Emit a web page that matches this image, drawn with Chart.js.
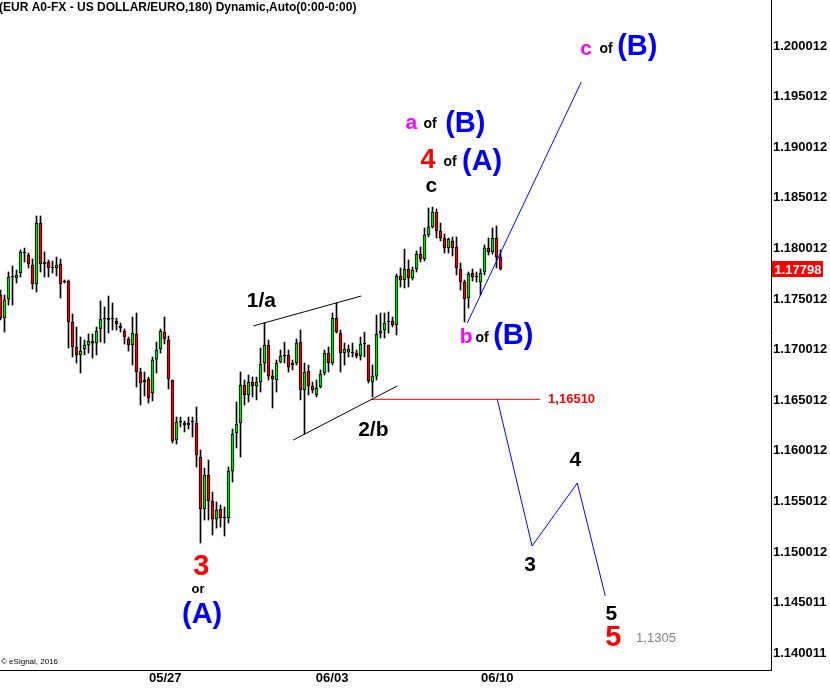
<!DOCTYPE html>
<html>
<head>
<meta charset="utf-8">
<script src="https://cdn.jsdelivr.net/npm/chart.js@4.4.1/dist/chart.umd.min.js"></script>
<style>
  body { margin: 0; background: #fff; }
  #wrap { width: 830px; height: 688px; }
</style>
</head>
<body>
<div id="wrap"><canvas id="chart" width="830" height="688"></canvas></div>
<script>
const ARIAL = '"Liberation Sans", Arial, sans-serif';

// EUR A0-FX, 180 min candles
const open = [
  1.17541, 1.17314, 1.17501, 1.17719, 1.17709, 1.17758, 1.17956, 1.17936, 1.17837, 1.17650,
  1.18252, 1.17847, 1.17867, 1.17808, 1.17808, 1.17847, 1.17669, 1.17679, 1.17274, 1.17027,
  1.16948, 1.17007, 1.17047, 1.17086, 1.17066, 1.17205, 1.17304, 1.17294, 1.17304, 1.17284,
  1.17235, 1.17185, 1.17106, 1.17047, 1.17156, 1.16780, 1.16681, 1.16711, 1.16573, 1.16908,
  1.17007, 1.17175, 1.17096, 1.16701, 1.16108, 1.16286, 1.16276, 1.16256, 1.16286, 1.16276,
  1.15940, 1.15426, 1.15762, 1.15505, 1.15327, 1.15426, 1.15337, 1.15337, 1.15801, 1.16177,
  1.16276, 1.16652, 1.16553, 1.16681, 1.16642, 1.16681, 1.16869, 1.17047, 1.16740, 1.16701,
  1.16879, 1.16938, 1.16948, 1.16849, 1.16869, 1.17076, 1.16602, 1.16790, 1.16642, 1.16553,
  1.16632, 1.16770, 1.16968, 1.16869, 1.17314, 1.17165, 1.16968, 1.16978, 1.16968, 1.16968,
  1.16938, 1.17057, 1.17047, 1.16681, 1.16740, 1.17165, 1.17195, 1.17274, 1.17284, 1.17245,
  1.17729, 1.17689, 1.17798, 1.17709, 1.17798, 1.17946, 1.17897, 1.18134, 1.18213, 1.18361,
  1.18173, 1.18104, 1.18005, 1.18075, 1.18015, 1.17798, 1.17669, 1.17511, 1.17758, 1.17719,
  1.17669, 1.17768, 1.18005, 1.17966, 1.18104, 1.17916
];
const high = [
  1.17590, 1.17541, 1.17768, 1.17828, 1.17788, 1.17986, 1.18005, 1.17956, 1.17897, 1.18322,
  1.18322, 1.17966, 1.17887, 1.17877, 1.17916, 1.17897, 1.17689, 1.17689, 1.17353, 1.17225,
  1.17126, 1.17096, 1.17156, 1.17156, 1.17225, 1.17482, 1.17422, 1.17531, 1.17462, 1.17314,
  1.17264, 1.17205, 1.17126, 1.17324, 1.17363, 1.16819, 1.16780, 1.16730, 1.16928, 1.17076,
  1.17205, 1.17324, 1.17136, 1.16701, 1.16335, 1.16335, 1.16296, 1.16335, 1.16335, 1.16434,
  1.16009, 1.15831, 1.15910, 1.15594, 1.15495, 1.15466, 1.15446, 1.15841, 1.16217, 1.16484,
  1.16780, 1.16701, 1.16750, 1.16730, 1.16730, 1.17017, 1.17264, 1.17096, 1.16800, 1.16898,
  1.16997, 1.17076, 1.16997, 1.16898, 1.17106, 1.17195, 1.16869, 1.16849, 1.16681, 1.16701,
  1.16800, 1.16997, 1.17027, 1.17363, 1.17462, 1.17195, 1.17066, 1.17047, 1.17066, 1.16997,
  1.17126, 1.17175, 1.17047, 1.16849, 1.17343, 1.17363, 1.17363, 1.17373, 1.17324, 1.17748,
  1.17808, 1.17995, 1.17887, 1.17818, 1.17976, 1.18015, 1.18203, 1.18401, 1.18410, 1.18391,
  1.18252, 1.18144, 1.18104, 1.18114, 1.18114, 1.17857, 1.17689, 1.17768, 1.17798, 1.17768,
  1.17798, 1.18035, 1.18104, 1.18203, 1.18223, 1.17986
];
const low = [
  1.17294, 1.17175, 1.17442, 1.17442, 1.17659, 1.17719, 1.17867, 1.17808, 1.17600, 1.17571,
  1.17768, 1.17719, 1.17719, 1.17758, 1.17729, 1.17511, 1.17659, 1.17017, 1.16928, 1.16869,
  1.16770, 1.16948, 1.16968, 1.16918, 1.16948, 1.17076, 1.17066, 1.17165, 1.17195, 1.17195,
  1.17175, 1.17057, 1.16987, 1.16849, 1.16632, 1.16454, 1.16543, 1.16474, 1.16494, 1.16770,
  1.16968, 1.17057, 1.16612, 1.16078, 1.16068, 1.16236, 1.16187, 1.16217, 1.16138, 1.15841,
  1.15090, 1.15317, 1.15317, 1.15169, 1.15238, 1.15248, 1.15159, 1.15288, 1.15693, 1.16029,
  1.15940, 1.16454, 1.16484, 1.16533, 1.16504, 1.16582, 1.16780, 1.16701, 1.16424, 1.16582,
  1.16869, 1.16869, 1.16780, 1.16800, 1.16849, 1.16504, 1.16167, 1.16553, 1.16573, 1.16533,
  1.16622, 1.16750, 1.16780, 1.16849, 1.17165, 1.16780, 1.16849, 1.16928, 1.16928, 1.16918,
  1.16898, 1.16928, 1.16671, 1.16533, 1.16701, 1.17116, 1.17116, 1.17165, 1.17225, 1.17146,
  1.17620, 1.17610, 1.17620, 1.17689, 1.17768, 1.17867, 1.17877, 1.18114, 1.18203, 1.18104,
  1.18075, 1.17956, 1.17956, 1.17926, 1.17739, 1.17590, 1.17274, 1.17412, 1.17679, 1.17669,
  1.17541, 1.17739, 1.17936, 1.17946, 1.17808, 1.17788
];
const close = [
  1.17314, 1.17492, 1.17719, 1.17719, 1.17739, 1.17966, 1.17956, 1.17847, 1.17650, 1.18252,
  1.17847, 1.17867, 1.17808, 1.17808, 1.17837, 1.17650, 1.17669, 1.17274, 1.17027, 1.16948,
  1.16987, 1.17047, 1.17086, 1.17066, 1.17185, 1.17304, 1.17304, 1.17314, 1.17304, 1.17254,
  1.17215, 1.17126, 1.17047, 1.17165, 1.16780, 1.16671, 1.16701, 1.16523, 1.16898, 1.16997,
  1.17185, 1.17106, 1.16711, 1.16098, 1.16286, 1.16286, 1.16256, 1.16276, 1.16286, 1.15960,
  1.15426, 1.15762, 1.15505, 1.15327, 1.15416, 1.15337, 1.15337, 1.15801, 1.16167, 1.16266,
  1.16652, 1.16553, 1.16681, 1.16642, 1.16681, 1.16859, 1.17047, 1.16740, 1.16711, 1.16869,
  1.16938, 1.16938, 1.16829, 1.16869, 1.17066, 1.16602, 1.16780, 1.16642, 1.16602, 1.16622,
  1.16760, 1.16968, 1.16869, 1.17314, 1.17175, 1.16968, 1.17007, 1.17007, 1.16968, 1.16938,
  1.17057, 1.17057, 1.16691, 1.16740, 1.17156, 1.17185, 1.17264, 1.17274, 1.17245, 1.17729,
  1.17689, 1.17798, 1.17709, 1.17788, 1.17946, 1.17897, 1.18134, 1.18213, 1.18361, 1.18173,
  1.18104, 1.18005, 1.18094, 1.18005, 1.17808, 1.17669, 1.17501, 1.17748, 1.17719, 1.17719,
  1.17758, 1.18005, 1.17966, 1.18104, 1.17916, 1.17798
];

const priceTicks = [1.140011, 1.145011, 1.150012, 1.155012, 1.160012, 1.165012, 1.170012,
  1.175012, 1.180012, 1.185012, 1.190012, 1.195012, 1.200012];
const dateTicks = [41.2, 82.9, 124.2];
const dateLabels = ['05/27', '06/03', '06/10'];

// drawn wave paths (bar index, price)
const projUp = [{x: 116.7, y: 1.17264}, {x: 145.2, y: 1.19646}];
const projDown = [{x: 124.2, y: 1.16510}, {x: 132.9, y: 1.15061}, {x: 144.2, y: 1.15683}, {x: 151.2, y: 1.14567}];
const channelTop = [{x: 63.2, y: 1.17235}, {x: 90.2, y: 1.17531}];
const channelBot = [{x: 73.2, y: 1.16108}, {x: 99.2, y: 1.16642}];
const levelPrice = 1.16510;
const levelLine = [{x: 92.7, y: levelPrice}, {x: 134.9, y: levelPrice}];

const MAG = '#ff00ff', BLUE = '#0000ff', RED = '#ff0000', BLK = '#000000';
const waveLabels = [
  {t: 'c', x: 146.4, y: 1.19972, c: MAG, f: 'bold 21px'},
  {t: 'of', x: 151.4, y: 1.19972, c: BLK, f: 'bold 14px'},
  {t: '(B)', x: 159.2, y: 1.19992, c: BLUE, f: 'bold 29px'},
  {t: 'a', x: 102.7, y: 1.19241, c: MAG, f: 'bold 21px'},
  {t: 'of', x: 107.4, y: 1.19231, c: BLK, f: 'bold 14px'},
  {t: '(B)', x: 116.2, y: 1.19231, c: BLUE, f: 'bold 29px'},
  {t: '4', x: 106.9, y: 1.18865, c: RED, f: 'bold 27px'},
  {t: 'of', x: 112.4, y: 1.18855, c: BLK, f: 'bold 14px'},
  {t: '(A)', x: 120.4, y: 1.18855, c: BLUE, f: 'bold 29px'},
  {t: 'c', x: 107.7, y: 1.18618, c: BLK, f: 'bold 21px'},
  {t: 'b', x: 116.4, y: 1.17126, c: MAG, f: 'bold 21px'},
  {t: 'of', x: 120.4, y: 1.17116, c: BLK, f: 'bold 14px'},
  {t: '(B)', x: 128.2, y: 1.17136, c: BLUE, f: 'bold 29px'},
  {t: '1/a', x: 65.2, y: 1.17482, c: BLK, f: 'bold 21px'},
  {t: '2/b', x: 93.2, y: 1.16207, c: BLK, f: 'bold 21px'},
  {t: '3', x: 50.2, y: 1.14853, c: RED, f: 'bold 29px'},
  {t: 'or', x: 49.4, y: 1.14636, c: BLK, f: 'bold 13px'},
  {t: '(A)', x: 50.4, y: 1.14379, c: BLUE, f: 'bold 29px'},
  {t: '3', x: 132.4, y: 1.14873, c: BLK, f: 'bold 21px'},
  {t: '4', x: 143.7, y: 1.15910, c: BLK, f: 'bold 21px'},
  {t: '5', x: 152.7, y: 1.14389, c: BLK, f: 'bold 21px'},
  {t: '5', x: 153.2, y: 1.14152, c: RED, f: 'bold 29px'},
  {t: '1,1305', x: 158.9, y: 1.14152, c: '#808080', f: '13px', a: 'left'},
  {t: '1,16510', x: 136.9, y: levelPrice, c: RED, f: 'bold 13px', a: 'left'}
];

const idx = open.map((_, i) => i);
const bodyColors = idx.map(i => close[i] > open[i] ? '#00e000' : close[i] < open[i] ? '#ee0000' : '#000000');

const overlay = {
  id: 'overlay',
  afterDraw(chart) {
    const {ctx, chartArea, scales: {x, y}} = chart;
    ctx.save();
    ctx.textBaseline = 'middle';
    waveLabels.forEach(l => {
      ctx.font = l.f + ' ' + ARIAL;
      ctx.fillStyle = l.c;
      ctx.textAlign = l.a || 'center';
      ctx.fillText(l.t, x.getPixelForValue(l.x), y.getPixelForValue(l.y));
    });

    // last price tag
    const last = close[close.length - 1];
    const py = Math.round(y.getPixelForValue(last));
    ctx.fillStyle = '#ff0000';
    ctx.fillRect(chartArea.right + 1, py - 8, 51, 16);
    ctx.fillStyle = '#ffffff';
    ctx.font = 'bold 13px ' + ARIAL;
    ctx.textAlign = 'center';
    ctx.fillText(last.toFixed(5), chartArea.right + 27, py + 1);

    // header + copyright
    ctx.fillStyle = '#000';
    ctx.textAlign = 'left';
    ctx.font = 'bold 12px ' + ARIAL;
    ctx.fillText('(EUR A0-FX - US DOLLAR/EURO,180) Dynamic,Auto(0:00-0:00)', -1, 8);
    ctx.font = '8px ' + ARIAL;
    ctx.fillText('\u00a9 eSignal, 2016', 1, 662);
    ctx.restore();
  }
};

const lineDs = (data, color) => ({
  type: 'line', data, borderColor: color, borderWidth: 1,
  pointRadius: 0, tension: 0, fill: false, order: 0
});

new Chart(document.getElementById('chart'), {
  type: 'bar',
  data: {
    datasets: [
      {
        label: 'wick',
        data: idx.map(i => ({x: i, y: [low[i], high[i]]})),
        backgroundColor: '#000',
        barThickness: 1,
        grouped: false,
        order: 2
      },
      {
        label: 'body',
        data: idx.map(i => ({x: i, y: [open[i], close[i]]})),
        backgroundColor: bodyColors,
        borderColor: '#000',
        borderWidth: 1,
        borderSkipped: false,
        barThickness: 3,
        minBarLength: 1,
        grouped: false,
        order: 1
      },
      lineDs(projUp, BLUE),
      lineDs(projDown, BLUE),
      lineDs(channelTop, BLK),
      lineDs(channelBot, BLK),
      lineDs(levelLine, RED)
    ]
  },
  options: {
    responsive: false,
    animation: false,
    layout: { padding: 0 },
    plugins: {
      legend: { display: false },
      tooltip: { enabled: false }
    },
    scales: {
      x: {
        type: 'linear',
        position: 'bottom',
        offset: false,
        min: -0.125,
        max: 192.625,
        grid: { display: false, drawTicks: false },
        border: { display: true, color: '#000', width: 1 },
        afterBuildTicks: s => { s.ticks = dateTicks.map(v => ({value: v})); },
        afterFit: s => { s.height = 18; s.paddingLeft = 0; s.paddingRight = 0; },
        ticks: {
          autoSkip: false,
          maxRotation: 0,
          padding: 1,
          color: '#000',
          font: { family: ARIAL, size: 13, weight: 'bold' },
          callback: v => dateLabels[dateTicks.indexOf(v)]
        }
      },
      y: {
        type: 'linear',
        position: 'right',
        min: 1.138354,
        max: 1.20456,
        grid: { display: false, drawTicks: false },
        border: { display: true, color: '#000', width: 1 },
        afterBuildTicks: s => { s.ticks = priceTicks.map(v => ({value: v})); },
        afterFit: s => { s.width = 59; s.paddingTop = 0; s.paddingBottom = 0; },
        ticks: {
          padding: 2,
          color: '#000',
          font: { family: ARIAL, size: 13, weight: 'bold' },
          callback: v => v.toFixed(6)
        }
      }
    }
  },
  plugins: [overlay]
});
</script>
</body>
</html>
